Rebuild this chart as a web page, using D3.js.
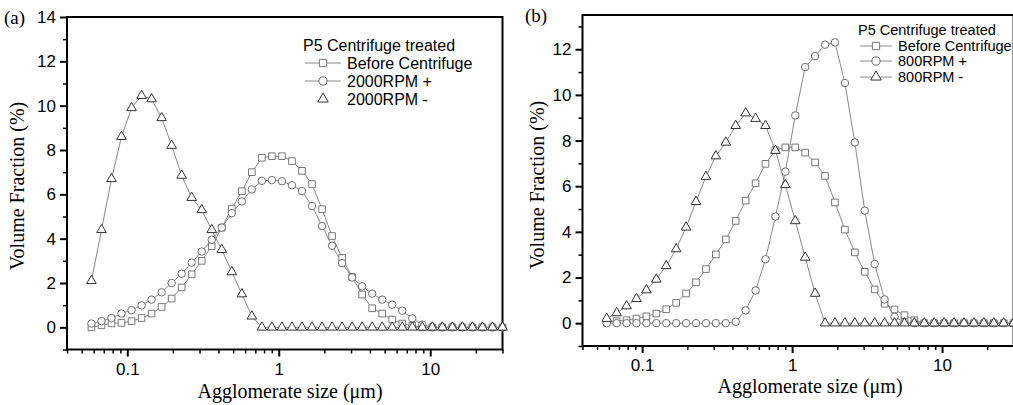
<!DOCTYPE html>
<html>
<head>
<meta charset="utf-8">
<script src="https://cdn.jsdelivr.net/npm/d3@7"></script>
<style>
  body { margin: 0; background: #fff; }
</style>
</head>
<body>
<div id="chart"></div>
<script>
// Agglomerate size bins (µm), shared by both panels
const sizes = [0.058, 0.0676, 0.0787, 0.0916, 0.1067, 0.1243, 0.1447, 0.1686, 0.1963, 0.2286,
  0.2663, 0.3101, 0.3611, 0.4206, 0.4899, 0.5706, 0.6645, 0.7739, 0.9013, 1.0496,
  1.2225, 1.4238, 1.6582, 1.9313, 2.2491, 2.6193, 3.0504, 3.5524, 4.1371, 4.8183,
  5.6116, 6.5358, 7.612, 8.8654, 10.325, 12.023, 14.003, 16.31, 18.995, 22.124,
  25.763, 30.0];

// Panel (a)
const beforeA = [0.0, 0.09, 0.18, 0.2, 0.28, 0.42, 0.62, 0.92, 1.3, 1.8,
  2.39, 3.0, 3.66, 4.5, 5.36, 6.14, 7.0, 7.65, 7.72, 7.72,
  7.5, 7.06, 6.46, 5.33, 4.12, 3.13, 2.27, 1.48, 0.86, 0.62,
  0.35, 0.17, 0.07, 0, 0, 0, 0, 0, 0, 0, 0, 0];
const plusA = [0.17, 0.28, 0.42, 0.62, 0.78, 0.99, 1.25, 1.58, 2.0, 2.42,
  2.92, 3.42, 3.95, 4.5, 5.15, 5.68, 6.22, 6.61, 6.64, 6.59,
  6.41, 6.15, 5.47, 4.57, 3.68, 2.9, 2.25, 1.85, 1.52, 1.25,
  1.02, 0.75, 0.4, 0.12, 0, 0, 0, 0, 0, 0, 0, 0];
const minusA = [2.1, 4.4, 6.7, 8.6, 9.9, 10.45, 10.3, 9.45, 8.2, 6.85,
  5.85, 5.3, 4.4, 3.5, 2.5, 1.5, 0.5, 0, 0, 0,
  0, 0, 0, 0, 0, 0, 0, 0, 0, 0,
  0, 0, 0, 0, 0, 0, 0, 0, 0, 0, 0, 0];

// Panel (b)
const beforeB = [0.06, 0.09, 0.13, 0.2, 0.3, 0.42, 0.61, 0.89, 1.3, 1.79,
  2.37, 3.01, 3.67, 4.48, 5.37, 6.13, 6.98, 7.58, 7.7, 7.7,
  7.47, 7.04, 6.45, 5.29, 4.1, 3.1, 2.25, 1.48, 0.85, 0.6,
  0.35, 0.13, 0, 0, 0, 0, 0, 0, 0, 0, 0, 0];
const plusB = [0, 0, 0, 0, 0, 0, 0, 0, 0, 0,
  0, 0, 0, 0.06, 0.56, 1.43, 2.8, 4.67, 6.64, 9.1,
  11.22, 11.7, 12.2, 12.3, 10.52, 7.92, 4.93, 2.59, 1.04, 0.28,
  0.05, 0, 0, 0, 0, 0, 0, 0, 0, 0, 0, 0];
const minusB = [0.2, 0.45, 0.75, 1.07, 1.45, 1.92, 2.51, 3.25, 4.2, 5.32,
  6.42, 7.32, 7.92, 8.65, 9.2, 8.96, 8.65, 7.56, 6.06, 4.48,
  2.88, 1.3, 0, 0, 0, 0, 0, 0, 0, 0,
  0, 0, 0, 0, 0, 0, 0, 0, 0, 0, 0, 0];

// Ticks and labels
const xMajor = [0.1, 1, 10];
const xMinor = [0.04, 0.05, 0.06, 0.07, 0.08, 0.09, 0.2, 0.3, 0.4, 0.5, 0.6, 0.7, 0.8, 0.9,
  2, 3, 4, 5, 6, 7, 8, 9, 20, 30];
const yMajorA = [0, 2, 4, 6, 8, 10, 12, 14];
const yMajorB = [0, 2, 4, 6, 8, 10, 12];
const yMinor = [-1, 1, 3, 5, 7, 9, 11, 13];
const legendTitle = "P5 Centrifuge treated";
const namesA = ["Before Centrifuge", "2000RPM +", "2000RPM -"];
const namesB = ["Before Centrifuge", "800RPM +", "800RPM -"];

const width = 1013, height = 405;
const sans = "'Liberation Sans', Arial, sans-serif";
const serif = "'Liberation Serif', 'Times New Roman', serif";

const svg = d3.select("#chart")
  .append("svg")
  .attr("width", width)
  .attr("height", height);

const marks = [
  { shape: d3.symbolSquare, size: 44, color: "#777" },
  { shape: d3.symbolCircle, size: 44, color: "#6e6e6e" },
  { shape: d3.symbolTriangle, size: 40, color: "#333" }
];

function drawPanel(p) {
  const g = svg.append("g");
  const x = d3.scaleLog().domain([0.04, 30]).range([p.left, p.right]);
  const y = d3.scaleLinear().domain(p.yDomain).range([p.bottom, p.top]);

  // frame
  g.append("rect")
    .attr("x", p.left).attr("y", p.top)
    .attr("width", p.right - p.left).attr("height", p.bottom - p.top)
    .attr("fill", "none").attr("stroke", "#000").attr("stroke-width", 2);

  // x axis (major + minor ticks)
  g.append("g")
    .attr("transform", `translate(0,${p.bottom})`)
    .call(d3.axisBottom(x).tickValues(xMajor).tickSize(7).tickPadding(6)
      .tickFormat(d3.format("~g")))
    .call(a => a.select(".domain").remove())
    .call(a => a.selectAll("line").attr("stroke-width", 2))
    .call(a => a.selectAll("text").attr("font-family", sans).attr("font-size", p.tickFont).attr("fill", "#000"));
  g.append("g")
    .attr("transform", `translate(0,${p.bottom})`)
    .call(d3.axisBottom(x).tickValues(xMinor).tickSize(4).tickFormat(""))
    .call(a => a.select(".domain").remove())
    .call(a => a.selectAll("line").attr("stroke-width", 1.5));

  // y axis
  g.append("g")
    .attr("transform", `translate(${p.left},0)`)
    .call(d3.axisLeft(y).tickValues(p.yMajor).tickSize(7).tickPadding(4))
    .call(a => a.select(".domain").remove())
    .call(a => a.selectAll("line").attr("stroke-width", 2))
    .call(a => a.selectAll("text").attr("font-family", sans).attr("font-size", p.tickFont).attr("fill", "#000"));
  g.append("g")
    .attr("transform", `translate(${p.left},0)`)
    .call(d3.axisLeft(y).tickValues(yMinor.filter(v => v <= p.yDomain[1])).tickSize(4).tickFormat(""))
    .call(a => a.select(".domain").remove())
    .call(a => a.selectAll("line").attr("stroke-width", 1.5));

  // series
  const line = d3.line().x((d, i) => x(sizes[i])).y(d => y(d));
  p.series.forEach((vals, k) => {
    g.append("path").datum(vals)
      .attr("d", line).attr("fill", "none")
      .attr("stroke", "#888").attr("stroke-width", 1);
  });
  p.series.forEach((vals, k) => {
    const m = marks[k];
    g.selectAll(null).data(vals).enter().append("path")
      .attr("transform", (d, i) => `translate(${x(sizes[i])},${y(d)})`)
      .attr("d", d3.symbol().type(m.shape).size(m.size))
      .attr("fill", "#fff").attr("stroke", m.color).attr("stroke-width", 1);
  });

  // legend
  const lg = g.append("g").attr("font-family", sans).attr("font-size", p.legFont);
  lg.append("text").attr("x", p.legX).attr("y", p.legY[0]).attr("dy", "0.35em").text(legendTitle);
  p.names.forEach((name, k) => {
    const yy = p.legY[k + 1];
    const m = marks[k];
    if (!(p.noLine && k === 2)) {
      lg.append("line").attr("x1", p.legX + 2).attr("x2", p.legX + p.legLen)
        .attr("y1", yy).attr("y2", yy).attr("stroke", "#888").attr("stroke-width", 1);
    }
    lg.append("path")
      .attr("transform", `translate(${p.legX + 2 + (p.legLen - 2) / 2},${yy})`)
      .attr("d", d3.symbol().type(m.shape).size(m.size * 1.2))
      .attr("fill", "#fff").attr("stroke", m.color).attr("stroke-width", 1);
    lg.append("text").attr("x", p.legX + p.legLen + 6).attr("y", yy).attr("dy", "0.35em").text(name);
  });

  // titles
  g.append("text")
    .attr("x", p.xTitleX).attr("y", p.xTitleY)
    .attr("text-anchor", "middle")
    .attr("font-family", serif).attr("font-size", 20)
    .text("Agglomerate size (\u03bcm)");
  g.append("text")
    .attr("transform", `translate(${p.yTitleX},${p.yTitleY}) rotate(-90)`)
    .attr("text-anchor", "middle")
    .attr("font-family", serif).attr("font-size", 20)
    .text("Volume Fraction (%)");
  g.append("text")
    .attr("x", p.tagX).attr("y", p.tagY).attr("dy", "0.35em")
    .attr("font-family", serif).attr("font-size", 19)
    .text(p.tag);
}

drawPanel({
  left: 67, right: 502.5, top: 17, bottom: 349.5, yDomain: [-1, 14], yMajor: yMajorA,
  series: [beforeA, plusA, minusA], names: namesA,
  tickFont: 17, legFont: 16, legX: 303, legLen: 38, legY: [45, 63, 81, 99], noLine: true,
  xTitleX: 290, xTitleY: 398, yTitleX: 24, yTitleY: 186, tag: "(a)", tagX: 4, tagY: 17
});

drawPanel({
  left: 582.5, right: 1013.6, top: 15, bottom: 346, yDomain: [-1, 13.5], yMajor: yMajorB,
  series: [beforeB, plusB, minusB], names: namesB,
  tickFont: 17, legFont: 14.5, legX: 858, legLen: 34, legY: [30, 46, 61, 77], noLine: false,
  xTitleX: 810, xTitleY: 393, yTitleX: 544, yTitleY: 185, tag: "(b)", tagX: 525, tagY: 15
});
</script>
</body>
</html>
